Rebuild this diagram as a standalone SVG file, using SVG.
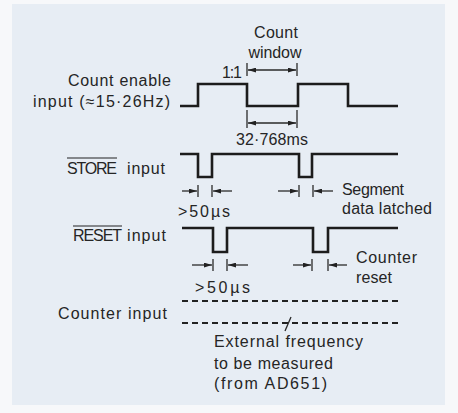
<svg xmlns="http://www.w3.org/2000/svg" width="458" height="413" viewBox="0 0 458 413">
<defs>
<style>
.t{font-family:"Liberation Sans",Arial,sans-serif;font-size:16px;fill:#252525;}
.w{fill:none;stroke:#1c1c1c;stroke-width:2.6;stroke-linejoin:miter;}
.d{fill:none;stroke:#2a2a2a;stroke-width:1.3;}
.ol{stroke:#222;stroke-width:1.2;}
.dot{fill:none;stroke:#222;stroke-width:2;stroke-dasharray:6 4;}
</style>
<marker id="ah" viewBox="0 0 10 6" refX="10" refY="3" markerWidth="8" markerHeight="5" orient="auto-start-reverse" markerUnits="userSpaceOnUse">
<path d="M0,0 L10,3 L0,6 Z" fill="#222"/>
</marker>
</defs>
<rect width="458" height="413" fill="#f7f8fa"/>
<rect x="12" y="4" width="433" height="401" fill="#e7edf4"/>

<g id="count-enable">
<text class="t" x="171" y="86" text-anchor="end" textLength="103">Count enable</text>
<text class="t" x="170" y="107" text-anchor="end" textLength="137">input (≈15·26Hz)</text>
<path class="w" d="M180,106 H198 V84 H247 V106 H298 V84 H348 V106 H398"/>
</g>

<g id="count-window">
<text class="t" x="276" y="38" text-anchor="middle" textLength="44">Count</text>
<text class="t" x="275" y="58" text-anchor="middle" textLength="53">window</text>
<text class="t" x="242" y="78" text-anchor="end" textLength="20">1:1</text>
<text class="t" x="272" y="145" text-anchor="middle" textLength="72">32·768ms</text>
</g>

<g id="store">
<text class="t" x="67" y="174" textLength="50">STORE</text>
<line class="ol" x1="67" y1="158" x2="117" y2="158"/>
<text class="t" x="127" y="174" textLength="38">input</text>
<path class="w" d="M180,154 H198 V177 H212 V154 H299 V177 H312 V154 H398"/>
<text class="t" x="178" y="217" textLength="52">&gt;50µs</text>
<text class="t" x="342" y="195" textLength="62">Segment</text>
<text class="t" x="342" y="214" textLength="90">data latched</text>
</g>

<g id="reset">
<text class="t" x="73" y="241" textLength="49">RESET</text>
<line class="ol" x1="73" y1="226" x2="122" y2="226"/>
<text class="t" x="127" y="241" textLength="39">input</text>
<path class="w" d="M182,228 H213 V252 H227 V228 H313 V252 H328 V228 H398"/>
<text class="t" x="195" y="293" textLength="55">&gt;50µs</text>
<text class="t" x="356" y="263" textLength="61">Counter</text>
<text class="t" x="356" y="283" textLength="36">reset</text>
</g>

<g id="counter-input">
<text class="t" x="58" y="319" textLength="109">Counter input</text>
<line class="dot" x1="182" y1="301" x2="402" y2="301"/>
<line class="dot" x1="182" y1="323" x2="402" y2="323"/>
<line class="d" x1="285" y1="331" x2="291" y2="317"/>
<text class="t" x="214" y="347" textLength="149">External frequency</text>
<text class="t" x="214" y="369" textLength="119">to be measured</text>
<text class="t" x="214" y="389" textLength="113">(from AD651)</text>
</g>

<g id="connectors">
<line class="d" x1="247" y1="63" x2="247" y2="76"/>
<line class="d" x1="297" y1="63" x2="297" y2="76"/>
<line class="d" x1="248" y1="70" x2="296" y2="70" marker-start="url(#ah)" marker-end="url(#ah)"/>
<line class="d" x1="247" y1="110" x2="247" y2="128"/>
<line class="d" x1="297" y1="110" x2="297" y2="128"/>
<line class="d" x1="248" y1="123" x2="296" y2="123" marker-start="url(#ah)" marker-end="url(#ah)"/>
<line class="d" x1="198" y1="185" x2="198" y2="197"/>
<line class="d" x1="212" y1="185" x2="212" y2="197"/>
<line class="d" x1="182" y1="191" x2="197" y2="191" marker-end="url(#ah)"/>
<line class="d" x1="232" y1="191" x2="213" y2="191" marker-end="url(#ah)"/>
<line class="d" x1="299" y1="185" x2="299" y2="197"/>
<line class="d" x1="313" y1="185" x2="313" y2="197"/>
<line class="d" x1="278" y1="191" x2="298" y2="191" marker-end="url(#ah)"/>
<line class="d" x1="333" y1="191" x2="314" y2="191" marker-end="url(#ah)"/>
<line class="d" x1="213" y1="259" x2="213" y2="271"/>
<line class="d" x1="227" y1="259" x2="227" y2="271"/>
<line class="d" x1="192" y1="265" x2="212" y2="265" marker-end="url(#ah)"/>
<line class="d" x1="248" y1="265" x2="228" y2="265" marker-end="url(#ah)"/>
<line class="d" x1="312" y1="259" x2="312" y2="271"/>
<line class="d" x1="328" y1="259" x2="328" y2="271"/>
<line class="d" x1="293" y1="265" x2="311" y2="265" marker-end="url(#ah)"/>
<line class="d" x1="347" y1="265" x2="329" y2="265" marker-end="url(#ah)"/>
</g>
</svg>
